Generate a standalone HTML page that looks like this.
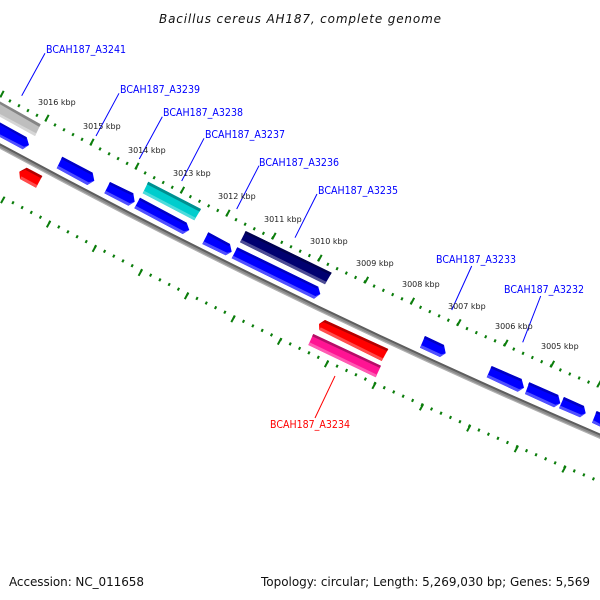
<!DOCTYPE html>
<html><head><meta charset="utf-8"><style>
html,body{margin:0;padding:0;background:#fff}
svg{display:block}
text{font-family:"DejaVu Sans","Liberation Sans",sans-serif}
.k{font-size:8px;fill:#222}
.l{font-size:10.5px;fill:#0000ff}
.b{fill:#0000ff}.bd{fill:#0000c4}.bl{fill:#5050ff}
.c{fill:none;stroke:#0000ff;stroke-width:1}
</style></head><body>
<svg width="600" height="600" viewBox="0 0 600 600" xmlns="http://www.w3.org/2000/svg">
<rect width="600" height="600" fill="#fff"/>
<g fill="none" stroke="#0b7d0b">
<polyline stroke-width="3" pathLength="65" stroke-dasharray="0.2 0.8" stroke-dashoffset="0.1" points="0.9,96.1 45.9,120.1 90.9,144.1 135.9,168.1 181.4,192.1 226.9,215.1 272.9,238.1 318.9,260.1 365.4,282.1 411.4,303.1 457.9,324.6 504.9,345.1 551.4,366.1 597.9,386.1"/>
<polyline stroke-width="3" pathLength="65" stroke-dasharray="0.2 0.8" stroke-dashoffset="0.1" points="3.8,197.8 49.6,222.1 95.4,246.5 141.4,270.5 187.6,293.8 234.1,316.8 280.6,339.3 327.6,361.8 375.1,383.5 422.6,405 469.8,426.1 517.4,446.8 565.1,467.1 612.6,486.8"/>
<path stroke-width="2" d="M2,94m-1.7,3.1l3.4,-6.2M47,118m-1.7,3.1l3.4,-6.2M92,142m-1.7,3.1l3.4,-6.2M137,166m-1.7,3.1l3.4,-6.2M182.5,190m-1.7,3.1l3.4,-6.2M228,213m-1.7,3.1l3.4,-6.2M274,236m-1.7,3.1l3.4,-6.2M320,258m-1.7,3.1l3.4,-6.2M366.5,280m-1.7,3.1l3.4,-6.2M412.5,301m-1.7,3.1l3.4,-6.2M459,322.5m-1.7,3.1l3.4,-6.2M506,343m-1.7,3.1l3.4,-6.2M552.5,364m-1.7,3.1l3.4,-6.2M599,384m-1.7,3.1l3.4,-6.2"/>
<path stroke-width="2" d="M2.7,200m-1.7,3.1l3.4,-6.2M48.5,224.3m-1.7,3.1l3.4,-6.2M94.3,248.7m-1.7,3.1l3.4,-6.2M140.3,272.7m-1.7,3.1l3.4,-6.2M186.5,296m-1.7,3.1l3.4,-6.2M233,319m-1.7,3.1l3.4,-6.2M279.5,341.5m-1.7,3.1l3.4,-6.2M326.5,364m-1.7,3.1l3.4,-6.2M374,385.7m-1.7,3.1l3.4,-6.2M421.5,407.2m-1.7,3.1l3.4,-6.2M468.7,428.3m-1.7,3.1l3.4,-6.2M516.3,449m-1.7,3.1l3.4,-6.2M564,469.3m-1.7,3.1l3.4,-6.2"/>
</g>
<g fill="none">
<path stroke="#8c8c8c" stroke-width="4.8" d="M-2,145A7400,7400 0 0 0 602,437"/>
<path stroke="#5e5e5e" stroke-width="2" transform="translate(0.7,-1.3)" d="M-2,145A7400,7400 0 0 0 602,437"/>
<path stroke="#b0b0b0" stroke-width="1.2" transform="translate(-0.9,1.8)" d="M-2,145A7400,7400 0 0 0 602,437"/>
</g>
<polygon fill="#bebebe" points="0,101.5 40.7,124.3 35,136 0,116.7"/>
<polygon fill="#858585" points="0,101.5 40.7,124.3 39.3,126.9 0,104.3"/>
<polygon fill="#d6d6d6" points="0,116.7 35,136 36.4,133.4 0,114"/>
<polygon class="b" points="0,122.5 26.7,137.3 29,145 22.7,149.3 0,137"/>
<polygon class="bd" points="0,122.5 26.7,137.3 25.5,139.5 0,124.7"/>
<polygon class="bl" points="0,137 22.7,149.3 29,145 24.1,146.7 0,134.4"/>
<polygon class="b" points="62.3,156.7 92.7,172.7 94.3,180.7 87.3,185 56.7,168.3"/>
<polygon class="bd" points="62.3,156.7 92.7,172.7 91.5,174.9 61.1,158.9"/>
<polygon class="bl" points="56.7,168.3 87.3,185 94.3,180.7 88.7,182.4 58.1,165.7"/>
<polygon class="b" points="110,182 133.3,193.3 134.7,201.7 128.3,205.7 104.3,193.3"/>
<polygon class="bd" points="110,182 133.3,193.3 132.1,195.5 108.8,184.2"/>
<polygon class="bl" points="104.3,193.3 128.3,205.7 134.7,201.7 129.7,203.1 105.7,190.7"/>
<polygon class="b" points="140,197.7 186.7,222.7 189.3,230 182.7,234 134.3,208.3"/>
<polygon class="bd" points="140,197.7 186.7,222.7 185.5,224.9 138.8,199.9"/>
<polygon class="bl" points="134.3,208.3 182.7,234 189.3,230 184.1,231.4 135.7,205.7"/>
<polygon class="b" points="208.3,232.3 230,244 231.7,251.7 225.7,255.3 202.3,244"/>
<polygon class="bd" points="208.3,232.3 230,244 228.8,246.2 207.1,234.5"/>
<polygon class="bl" points="202.3,244 225.7,255.3 231.7,251.7 227.1,252.7 203.7,241.4"/>
<polygon class="b" points="237.3,247.3 318.3,286.7 320.3,294 314,298.7 231.7,258.3"/>
<polygon class="bd" points="237.3,247.3 318.3,286.7 317.1,288.9 236.1,249.5"/>
<polygon class="bl" points="231.7,258.3 314,298.7 320.3,294 315.4,296.1 233.1,255.7"/>
<polygon class="b" points="425,336 444,345 445.7,353.3 440,357 420,347.7"/>
<polygon class="bd" points="425,336 444,345 442.8,347.2 423.8,338.2"/>
<polygon class="bl" points="420,347.7 440,357 445.7,353.3 441.4,354.4 421.4,345.1"/>
<polygon class="b" points="491.7,366 521.7,379 524,387.7 517.7,391.7 486.7,377.3"/>
<polygon class="bd" points="491.7,366 521.7,379 520.5,381.2 490.5,368.2"/>
<polygon class="bl" points="486.7,377.3 517.7,391.7 524,387.7 519.1,389.1 488.1,374.7"/>
<polygon class="b" points="529.3,382.3 558.3,395 560.3,403.3 554,407.3 525,394"/>
<polygon class="bd" points="529.3,382.3 558.3,395 557.1,397.2 528.1,384.5"/>
<polygon class="bl" points="525,394 554,407.3 560.3,403.3 555.4,404.7 526.4,391.4"/>
<polygon class="b" points="564,397 584,406 585.7,413.3 580,417.3 559,408.3"/>
<polygon class="bd" points="564,397 584,406 582.8,408.2 562.8,399.2"/>
<polygon class="bl" points="559,408.3 580,417.3 585.7,413.3 581.4,414.7 560.4,405.7"/>
<polygon class="b" points="596.7,411 600,412.5 600,426.5 592,422.7"/>
<polygon class="bd" points="596.7,411 600,412.5 600,414.7 595.5,413.2"/>
<polygon class="bl" points="592,422.7 600,426.5 600,423.9 593.4,420.1"/>
<polygon fill="#00cdcd" points="148.3,181.7 201,209 194.3,220.3 142.7,193.3"/>
<polygon fill="#008f8f" points="148.3,181.7 201,209 199.6,211.6 146.9,184.3"/>
<polygon fill="#4ddcdc" points="142.7,193.3 194.3,220.3 195.7,217.7 144.1,190.7"/>
<polygon fill="#000070" points="245.7,231 331.7,272.7 325,284.3 240,242.3"/>
<polygon fill="#00004e" points="245.7,231 331.7,272.7 330.5,274.9 244.5,233.2"/>
<polygon fill="#4d4d95" points="240,242.3 325,284.3 326.4,281.7 241.4,239.7"/>
<polygon fill="#ff1493" points="313.3,334 381,365.7 375.7,377.3 308.3,345"/>
<polygon fill="#b30e67" points="313.3,334 381,365.7 379.8,367.9 312.1,336.2"/>
<polygon fill="#ff5bb3" points="308.3,345 375.7,377.3 377.1,374.7 309.7,342.4"/>
<polygon fill="#ff0000" points="325,320 388.3,349 381.7,361 319.3,330 319,324"/>
<polygon fill="#b30000" points="325,320 388.3,349 387.1,351.2 323.8,322.2 319,324"/>
<polygon fill="#ff4d4d" points="319.3,330 381.7,361 383.1,358.4 320.7,327.4"/>
<polygon fill="#ff0000" points="26.7,167.7 42.3,176 36,187.7 20,179 19.3,171.7"/>
<polygon fill="#b30000" points="26.7,167.7 42.3,176 41.1,178.2 25.5,169.9 19.3,171.7"/>
<polygon fill="#ff4d4d" points="20,179 36,187.7 37.4,185.1 21.4,176.4"/>
<line class="c" x1="45" y1="53.3" x2="21.7" y2="95.7"/>
<line class="c" x1="119" y1="93.3" x2="96" y2="136"/>
<line class="c" x1="162.3" y1="116.7" x2="139.3" y2="159"/>
<line class="c" x1="204" y1="138.3" x2="181.7" y2="181"/>
<line class="c" x1="259" y1="165.7" x2="236.7" y2="209"/>
<line class="c" x1="317" y1="194" x2="295" y2="237.7"/>
<line class="c" x1="471.7" y1="266" x2="451.7" y2="310"/>
<line class="c" x1="540.7" y1="296" x2="522.7" y2="342.3"/>
<line x1="335" y1="376" x2="315" y2="418" stroke="#ff0000" stroke-width="1"/>
<text x="159" y="23" font-size="12" font-style="italic" fill="#111" textLength="282" lengthAdjust="spacing">Bacillus cereus AH187, complete genome</text>
<text x="9" y="586" font-size="12" fill="#111" textLength="135" lengthAdjust="spacing">Accession: NC_011658</text>
<text x="261" y="586" font-size="12" fill="#111" textLength="329" lengthAdjust="spacing">Topology: circular; Length: 5,269,030 bp; Genes: 5,569</text>
<g>
<text class="l" x="46" y="53" textLength="80" lengthAdjust="spacingAndGlyphs">BCAH187_A3241</text>
<text class="l" x="120" y="93" textLength="80" lengthAdjust="spacingAndGlyphs">BCAH187_A3239</text>
<text class="l" x="163" y="116" textLength="80" lengthAdjust="spacingAndGlyphs">BCAH187_A3238</text>
<text class="l" x="205" y="138" textLength="80" lengthAdjust="spacingAndGlyphs">BCAH187_A3237</text>
<text class="l" x="259" y="166" textLength="80" lengthAdjust="spacingAndGlyphs">BCAH187_A3236</text>
<text class="l" x="318" y="194" textLength="80" lengthAdjust="spacingAndGlyphs">BCAH187_A3235</text>
<text class="l" x="436" y="263" textLength="80" lengthAdjust="spacingAndGlyphs">BCAH187_A3233</text>
<text class="l" x="504" y="293" textLength="80" lengthAdjust="spacingAndGlyphs">BCAH187_A3232</text>
<text class="l" x="270" y="428" textLength="80" lengthAdjust="spacingAndGlyphs" style="fill:#ff0000">BCAH187_A3234</text>
</g>
<g>
<text class="k" x="38" y="105">3016 kbp</text>
<text class="k" x="83" y="129">3015 kbp</text>
<text class="k" x="128" y="153">3014 kbp</text>
<text class="k" x="173" y="176">3013 kbp</text>
<text class="k" x="218" y="199">3012 kbp</text>
<text class="k" x="264" y="222">3011 kbp</text>
<text class="k" x="310" y="244">3010 kbp</text>
<text class="k" x="356" y="266">3009 kbp</text>
<text class="k" x="402" y="287">3008 kbp</text>
<text class="k" x="448" y="309">3007 kbp</text>
<text class="k" x="495" y="329">3006 kbp</text>
<text class="k" x="541" y="349">3005 kbp</text>
</g>
</svg>
</body></html>
